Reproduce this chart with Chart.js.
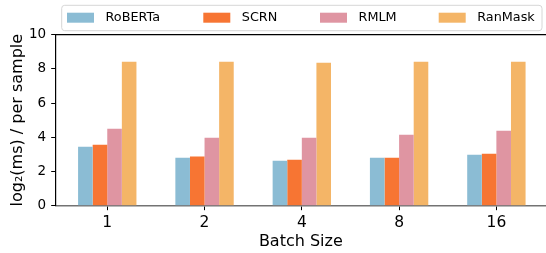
<!DOCTYPE html>
<html>
<head>
<meta charset="utf-8">
<script src="https://cdn.jsdelivr.net/npm/chart.js@4/dist/chart.umd.min.js"></script>
<style>
  html, body { margin: 0; padding: 0; background: #fff; overflow: hidden; }
  #wrap { width: 546px; height: 253px; position: relative; }
</style>
</head>
<body>
<div id="wrap"><canvas id="c" width="546" height="253"></canvas></div>
<script>
const categories = ['1', '2', '4', '8', '16'];
const seriesNames = ['RoBERTa', 'SCRN', 'RMLM', 'RanMask'];
const roberta = [3.45, 2.80, 2.63, 2.80, 2.98];
const scrn    = [3.57, 2.87, 2.69, 2.80, 3.04];
const rmlm    = [4.50, 3.98, 3.98, 4.15, 4.38];
const ranmask = [8.42, 8.42, 8.36, 8.42, 8.42];
const yTicks  = [0, 2, 4, 6, 8, 10];
const xLabel = 'Batch Size';
const yLabel = 'log\u2082(ms) / per sample';

const colors = ['#8BBCD4', '#F77533', '#DF95A2', '#F4B567'];
const seriesValues = [roberta, scrn, rmlm, ranmask];
const FONT = "'DejaVu Sans', sans-serif";

const datasets = seriesNames.map((name, s) => ({
  label: name,
  data: seriesValues[s].map((v, i) => ({ x: i, y: v })),
  backgroundColor: colors[s],
  borderWidth: 0,
  categoryPercentage: 0.6,
  barPercentage: 1.0
}));

const legendPlugin = {
  id: 'mplLegend',
  afterDraw(chart) {
    const ctx = chart.ctx;
    ctx.save();
    const bx = 61.7, by = 5.3, bw = 542 - 61.7, bh = 30.7 - 5.3;
    ctx.beginPath();
    ctx.roundRect(bx, by, bw, bh, 3);
    ctx.fillStyle = 'rgba(255,255,255,0.8)';
    ctx.fill();
    ctx.strokeStyle = '#d6d6d6';
    ctx.lineWidth = 1;
    ctx.stroke();
    const swatchX = [67, 203.3, 320, 438.7];
    ctx.font = '12.8px ' + FONT;
    ctx.textBaseline = 'middle';
    ctx.textAlign = 'left';
    chart.data.datasets.forEach((ds, i) => {
      ctx.fillStyle = ds.backgroundColor;
      ctx.fillRect(swatchX[i], 12.7, 27, 10);
      ctx.fillStyle = '#000';
      ctx.fillText(ds.label, swatchX[i] + 38.5, 18);
    });
    const a = chart.chartArea;
    ctx.beginPath();
    ctx.strokeStyle = '#000';
    ctx.lineWidth = 1.2;
    ctx.moveTo(a.left, a.top);
    ctx.lineTo(a.right, a.top);
    ctx.stroke();
    ctx.restore();
  }
};

new Chart(document.getElementById('c'), {
  type: 'bar',
  data: { datasets },
  plugins: [legendPlugin],
  options: {
    responsive: false,
    animation: false,
    layout: { padding: { top: 34.7, left: 0, right: 0, bottom: 0 } },
    plugins: { legend: { display: false }, tooltip: { enabled: false } },
    scales: {
      x: {
        type: 'linear',
        offset: false,
        min: -0.53,
        max: 4.51,
        z: 1,
        afterFit(scale) { scale.height = 47.3; },
        afterBuildTicks(scale) { scale.ticks = categories.map((c, i) => ({ value: i })); },
        ticks: {
          autoSkip: false,
          maxRotation: 0,
          color: '#000',
          padding: 3,
          font: { family: FONT, size: 15.5 },
          callback: (v) => categories[v]
        },
        grid: { display: true, offset: false, drawOnChartArea: false, drawTicks: true, tickLength: 4.5, color: '#000', lineWidth: 1 },
        border: { display: true, color: 'rgba(0,0,0,0.55)', width: 1.6 },
        title: { display: true, text: xLabel, color: '#000', font: { family: FONT, size: 16 }, padding: { top: 0, bottom: 2 } }
      },
      y: {
        min: 0,
        max: 10,
        afterFit(scale) { scale.width = 55.7; },
        afterBuildTicks(scale) { scale.ticks = yTicks.map(v => ({ value: v })); },
        ticks: {
          color: '#000',
          padding: 5,
          font: { family: FONT, size: 13.5 }
        },
        grid: { display: true, drawOnChartArea: false, drawTicks: true, tickLength: 4.5, color: '#000', lineWidth: 1 },
        border: { display: true, color: '#000', width: 1.2 },
        title: { display: true, text: yLabel, color: '#000', font: { family: FONT, size: 16 }, padding: { top: 8, bottom: 0 } }
      }
    }
  }
});
</script>
</body>
</html>
